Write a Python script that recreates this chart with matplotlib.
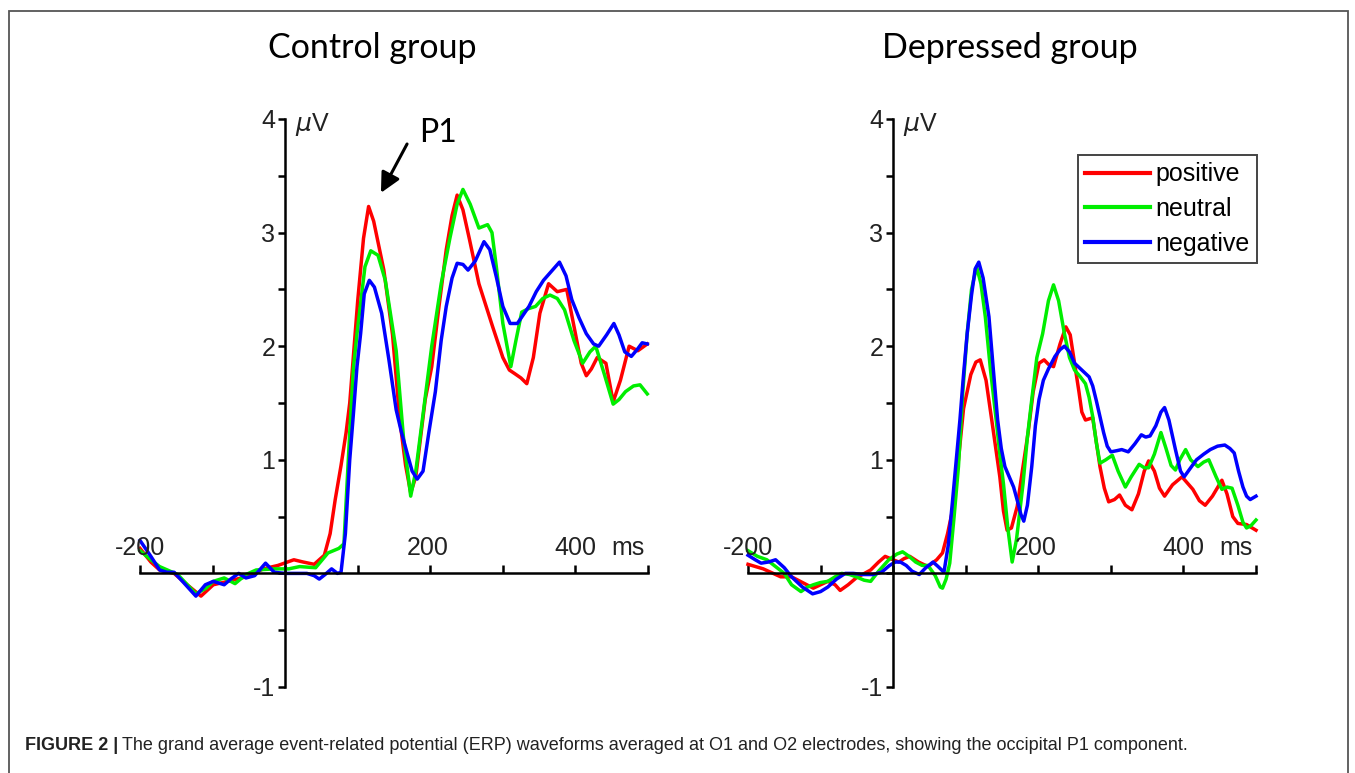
import matplotlib
matplotlib.use("Agg")
import matplotlib.pyplot as plt
from matplotlib.patches import Rectangle

# ---- data (time in ms, amplitude in microvolt) ----
ctrl_pos_t = [-200, -185, -173, -153, -135, -116, -99, -79, -54, -30, -10, 12, 25, 40, 54, 62, 69, 77, 84, 89,
              100, 108, 115, 122, 136, 148, 158, 166, 173, 180, 193, 202, 212, 222, 230, 237, 245, 254, 267,
              286, 300, 309, 316, 325, 333, 342, 351, 363, 375, 388, 400, 408, 415, 422, 430, 442, 452, 462,
              474, 486, 499]
ctrl_pos_v = [0.22, 0.1, 0.03, 0.0, -0.1, -0.2, -0.1, -0.07, -0.03, 0.04, 0.07, 0.12, 0.1, 0.08, 0.16, 0.35,
              0.65, 0.95, 1.24, 1.5, 2.4, 2.95, 3.23, 3.1, 2.67, 2.1, 1.35, 0.95, 0.71, 0.85, 1.53, 1.82, 2.35,
              2.85, 3.15, 3.33, 3.2, 2.94, 2.55, 2.17, 1.9, 1.79, 1.76, 1.72, 1.67, 1.9, 2.29, 2.55, 2.48, 2.5,
              2.11, 1.85, 1.74, 1.8, 1.9, 1.85, 1.51, 1.7, 2.0, 1.96, 2.02]

ctrl_neu_t = [-200, -185, -173, -148, -123, -109, -99, -84, -69, -54, -40, -15, 5, 20, 42, 59, 74, 81, 89, 94,
              99, 110, 118, 128, 138, 153, 163, 173, 180, 188, 202, 215, 227, 237, 245, 255, 267, 279, 285,
              291, 300, 311, 318, 326, 335, 345, 355, 365, 375, 385, 398, 410, 420, 428, 440, 452, 460, 469,
              480, 489, 499]
ctrl_neu_v = [0.2, 0.12, 0.06, -0.01, -0.18, -0.13, -0.07, -0.04, -0.09, -0.01, 0.03, 0.04, 0.04, 0.06, 0.05,
              0.18, 0.22, 0.26, 1.24, 1.8, 2.11, 2.7, 2.84, 2.8, 2.58, 1.96, 1.2, 0.68, 0.9, 1.3, 2.0, 2.55,
              2.95, 3.25, 3.38, 3.25, 3.04, 3.07, 3.0, 2.7, 2.2, 1.82, 2.05, 2.3, 2.33, 2.35, 2.42, 2.45, 2.42,
              2.32, 2.05, 1.85, 1.95, 2.0, 1.75, 1.49, 1.53, 1.6, 1.65, 1.66, 1.58]

ctrl_neg_t = [-200, -185, -173, -163, -153, -140, -123, -110, -99, -84, -75, -64, -54, -42, -27, -15, 0, 30,
              40, 47, 55, 64, 72, 77, 83, 89, 94, 99, 104, 109, 116, 123, 133, 143, 153, 160, 168, 175, 182,
              190, 198, 207, 215, 222, 230, 237, 245, 252, 262, 274, 282, 291, 300, 310, 320, 336, 346, 356,
              367, 378, 387, 395, 405, 415, 425, 432, 443, 453, 460, 468, 477, 485, 492, 499]
ctrl_neg_v = [0.29, 0.15, 0.03, 0.01, 0.01, -0.08, -0.2, -0.1, -0.07, -0.1, -0.05, 0.0, -0.04, -0.02, 0.09,
              0.01, 0.0, 0.0, -0.02, -0.05, -0.01, 0.04, 0.0, 0.01, 0.35, 1.0, 1.4, 1.82, 2.11, 2.46, 2.58,
              2.52, 2.29, 1.88, 1.44, 1.25, 1.06, 0.9, 0.83, 0.9, 1.24, 1.6, 2.05, 2.35, 2.6, 2.73, 2.72, 2.67,
              2.75, 2.92, 2.85, 2.61, 2.35, 2.2, 2.2, 2.35, 2.48, 2.58, 2.66, 2.74, 2.62, 2.41, 2.25, 2.11,
              2.02, 2.0, 2.1, 2.2, 2.1, 1.95, 1.91, 1.97, 2.03, 2.02]

dep_pos_t = [-200, -179, -155, -140, -125, -110, -100, -90, -80, -73, -62, -51, -31, -20, -11, 0, 8, 15, 23,
             35, 48, 60, 68, 75, 82, 90, 97, 107, 114, 120, 128, 137, 147, 152, 157, 163, 171, 178, 186, 193,
             201, 208, 214, 221, 230, 238, 244, 250, 256, 260, 265, 275, 285, 291, 297, 305, 312, 320, 329,
             338, 346, 352, 360, 367, 374, 385, 398, 413, 422, 430, 440, 453, 460, 468, 475, 487, 500]
dep_pos_v = [0.08, 0.04, -0.03, -0.03, -0.08, -0.13, -0.1, -0.07, -0.1, -0.15, -0.1, -0.04, 0.03, 0.1, 0.15,
             0.12, 0.1, 0.13, 0.15, 0.1, 0.06, 0.12, 0.18, 0.35, 0.56, 1.0, 1.45, 1.75, 1.86, 1.88, 1.7, 1.3,
             0.85, 0.55, 0.38, 0.4, 0.59, 0.9, 1.24, 1.6, 1.85, 1.88, 1.84, 1.82, 2.02, 2.17, 2.1, 1.85, 1.6,
             1.42, 1.35, 1.37, 0.94, 0.75, 0.63, 0.65, 0.69, 0.6, 0.56, 0.7, 0.9, 0.99, 0.9, 0.75, 0.68, 0.78,
             0.85, 0.74, 0.64, 0.6, 0.68, 0.82, 0.7, 0.5, 0.44, 0.43, 0.38]

dep_neu_t = [-200, -187, -174, -160, -150, -140, -127, -118, -110, -100, -90, -80, -71, -60, -51, -40, -31,
             -20, -6, 5, 13, 22, 31, 40, 48, 58, 65, 68, 73, 78, 84, 90, 96, 102, 108, 115, 121, 127, 134, 142,
             147, 152, 158, 164, 170, 179, 185, 191, 198, 206, 214, 221, 228, 236, 243, 250, 258, 265, 270,
             275, 280, 285, 293, 302, 310, 320, 328, 339, 346, 352, 360, 369, 376, 383, 389, 395, 403, 410,
             420, 428, 435, 445, 453, 460, 467, 475, 482, 487, 493, 500]
dep_neu_v = [0.2, 0.15, 0.12, 0.05, 0.0, -0.1, -0.16, -0.12, -0.1, -0.08, -0.07, -0.03, 0.0, -0.01, -0.03,
             -0.06, -0.07, 0.02, 0.12, 0.17, 0.19, 0.15, 0.1, 0.07, 0.07, -0.02, -0.12, -0.13, -0.05, 0.09, 0.5,
             0.94, 1.6, 2.11, 2.5, 2.7, 2.55, 2.26, 1.8, 1.35, 1.05, 0.79, 0.4, 0.1, 0.3, 0.79, 1.2, 1.53, 1.9,
             2.11, 2.4, 2.54, 2.4, 2.11, 1.9, 1.79, 1.73, 1.67, 1.55, 1.38, 1.15, 0.97, 1.0, 1.04, 0.9, 0.76,
             0.85, 0.96, 0.93, 0.93, 1.05, 1.24, 1.1, 0.95, 0.91, 1.0, 1.09, 1.0, 0.94, 0.98, 1.0, 0.85, 0.74,
             0.76, 0.75, 0.6, 0.45, 0.4, 0.42, 0.47]

dep_neg_t = [-200, -190, -182, -172, -162, -150, -140, -125, -111, -100, -90, -78, -66, -55, -41, -28, -16,
             -5, 3, 10, 18, 26, 36, 45, 55, 62, 70, 76, 82, 87, 92, 97, 102, 108, 113, 118, 124, 132, 138, 144,
             149, 154, 160, 166, 172, 176, 180, 185, 191, 196, 201, 207, 214, 223, 230, 236, 243, 250, 260,
             270, 275, 280, 285, 290, 295, 300, 308, 315, 324, 333, 342, 348, 354, 362, 369, 374, 380, 389,
             396, 401, 410, 418, 428, 437, 447, 457, 464, 470, 476, 482, 487, 492, 500]
dep_neg_v = [0.16, 0.12, 0.09, 0.1, 0.12, 0.05, -0.03, -0.12, -0.18, -0.16, -0.12, -0.05, 0.0, 0.0, -0.01,
             -0.01, 0.01, 0.07, 0.1, 0.1, 0.07, 0.02, -0.01, 0.05, 0.1, 0.06, 0.01, 0.25, 0.65, 1.0, 1.35, 1.75,
             2.11, 2.45, 2.68, 2.74, 2.6, 2.26, 1.8, 1.35, 1.1, 0.94, 0.85, 0.76, 0.62, 0.52, 0.46, 0.6, 0.94,
             1.3, 1.53, 1.7, 1.8, 1.91, 1.97, 2.0, 1.95, 1.85, 1.79, 1.73, 1.65, 1.52, 1.38, 1.24, 1.12, 1.07,
             1.08, 1.09, 1.07, 1.14, 1.22, 1.2, 1.21, 1.3, 1.42, 1.46, 1.35, 1.09, 0.9, 0.85, 0.93, 1.0, 1.05,
             1.09, 1.12, 1.13, 1.1, 1.06, 0.9, 0.76, 0.68, 0.65, 0.68]

conditions = ["positive", "neutral", "negative"]
colors = ["#ff0000", "#00ee00", "#0000ff"]
titles = ["Control group", "Depressed group"]
x_labels = {-200: "-200", 197: "200", 400: "400", 472: "ms"}

W, H = 1355, 773
fig = plt.figure(figsize=(W / 100, H / 100), dpi=100)
tick_font = "Liberation Sans"

# thin frame around the whole figure
fig.patches.append(Rectangle((9 / W, -0.02), 1339 / W, 1 - 11 / H + 0.02, transform=fig.transFigure,
                             fill=False, edgecolor="#555555", lw=1.3))

panels = [
    (140, [(ctrl_pos_t, ctrl_pos_v), (ctrl_neu_t, ctrl_neu_v), (ctrl_neg_t, ctrl_neg_v)]),
    (748, [(dep_pos_t, dep_pos_v), (dep_neu_t, dep_neu_v), (dep_neg_t, dep_neg_v)]),
]
axes = []
for left_px, series in panels:
    ax = fig.add_axes([left_px / W, (H - 687) / H, 508 / W, 568 / H])
    for (t, v), c, name in zip(series, colors, conditions):
        ax.plot(t, v, color=c, lw=2.5, label=name, solid_joinstyle="round", clip_on=False)
    ax.set_xlim(-200, 500)
    ax.set_ylim(-1, 4)
    ax.spines["left"].set_position(("data", 0))
    ax.spines["bottom"].set_position(("data", 0))
    ax.spines["top"].set_visible(False)
    ax.spines["right"].set_visible(False)
    for s in ("left", "bottom"):
        ax.spines[s].set_linewidth(1.8)
    ax.set_xticks(range(-200, 501, 100))
    ax.set_xticklabels([])
    ax.tick_params(axis="x", direction="in", length=6, width=1.8)
    yt = [-1, -0.5, 0, 0.5, 1, 1.5, 2, 2.5, 3, 3.5, 4]
    ax.set_yticks(yt)
    ax.set_yticklabels(["-1", "", "", "", "1", "", "2", "", "3", "", "4"],
                       fontsize=18, fontfamily=tick_font, color="#222222")
    ax.tick_params(axis="y", direction="out", length=5, width=1.8, pad=2)
    for xv, lab in x_labels.items():
        ax.annotate(lab, (xv, 0), xytext=(0, 18), textcoords="offset points", ha="center", va="center",
                    fontsize=18, fontfamily=tick_font, color="#222222")
    ax.text(14, 3.95, r"$\mu$V", fontsize=18, fontfamily=tick_font, ha="left", va="center", color="#222222")
    ax.patch.set_visible(False)
    axes.append(ax)

fig.text(372 / W, 1 - 48 / H, titles[0], fontsize=24.5, fontfamily="Lato", ha="center", va="center")
fig.text(1010 / W, 1 - 48 / H, titles[1], fontsize=24.5, fontfamily="Lato", ha="center", va="center")

# P1 marker
axes[0].annotate("", xy=(132, 3.35), xytext=(168, 3.78),
                 arrowprops=dict(arrowstyle="-|>,head_length=0.6,head_width=0.3", lw=2.2, color="black",
                                 mutation_scale=20, shrinkA=0, shrinkB=0))
axes[0].text(211, 3.88, "P1", fontsize=23, fontfamily="Lato", ha="center", va="center")

leg = axes[1].legend(loc="upper right", bbox_to_anchor=(1257 / W, 1 - 155 / H), bbox_transform=fig.transFigure,
                     prop={"family": tick_font, "size": 18}, frameon=True, fancybox=False, framealpha=1,
                     edgecolor="#444444", borderpad=0.3, labelspacing=0.42, handlelength=2.6, handletextpad=0.2,
                     borderaxespad=0)
leg.get_frame().set_linewidth(1.4)
for ln in leg.get_lines():
    ln.set_linewidth(3)

# caption: bold lead-in followed by the plain sentence
cap_y = 1 - 750 / H
t1 = fig.text(25 / W, cap_y, "FIGURE 2 |", fontsize=13, fontweight="bold", fontfamily=tick_font,
              va="baseline", color="#222222")
fig.canvas.draw()
bb = t1.get_window_extent()
fig.text(bb.x1 / W + 4 / W, cap_y,
         "The grand average event-related potential (ERP) waveforms averaged at O1 and O2 electrodes, "
         "showing the occipital P1 component.",
         fontsize=13, fontfamily=tick_font, va="baseline", color="#222222")

fig.savefig("out.png", dpi=100)
